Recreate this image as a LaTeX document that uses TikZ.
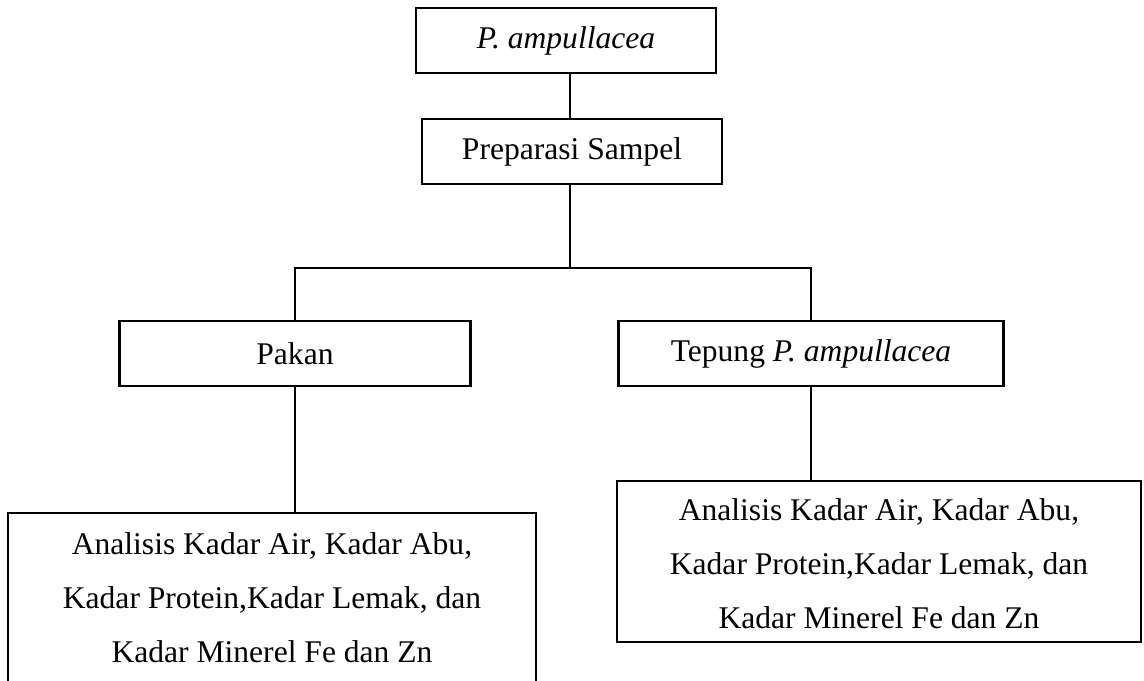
\documentclass[tikz,border=0pt]{standalone}
\usepackage{fontspec}
\setmainfont{Liberation Serif}
\usetikzlibrary{positioning}

\begin{document}
\begin{tikzpicture}[x=0.38pt, y=-0.38pt, line width=0.8pt]
    % Define styles
    \tikzstyle{stepbox} = [draw, rectangle, inner sep=0pt, align=center, font=\fontsize{12}{20.5}\selectfont]
    \tikzstyle{link} = [line width=0.8pt]

    \clip (0,0) rectangle (1144,680);

    % Level 1: sample
    \node[stepbox, minimum width=114pt, minimum height=24.7pt] (sample) at (566,40.5) {\textit{P. ampullacea}};

    % Level 2: preparation
    \node[stepbox, minimum width=114pt, minimum height=24.7pt] (prep) at (572,151.5) {Preparasi Sampel};
    \coordinate (fork) at (570,268);

    % Level 3: materials
    \node[stepbox, minimum width=133.4pt, minimum height=24.7pt] (pakan) at (295,353.5) {Pakan};
    \node[stepbox, minimum width=146.3pt, minimum height=24.7pt] (tepung) at (811,353.5) {Tepung \textit{P. ampullacea}};

    % Level 4: analyses
    \node[stepbox, minimum width=200.6pt, minimum height=64.6pt] (analisisL) at (272,598) {Analisis Kadar Air, Kadar Abu,\\Kadar Protein,Kadar Lemak, dan\\Kadar Minerel Fe dan Zn};
    \node[stepbox, minimum width=199.1pt, minimum height=61.2pt] (analisisR) at (879,561.5) {\rule{0pt}{9.7pt}Analisis Kadar Air, Kadar Abu,\\Kadar Protein,Kadar Lemak, dan\\Kadar Minerel Fe dan Zn};

    % Connectors
    \draw[link] (fork |- sample.south) -- (fork |- prep.north);
    \draw[link] (fork |- prep.south) -- (fork);
    \draw[link] (pakan) |- (fork) -| (tepung);
    \draw[link] (pakan.south) -- (pakan.south |- analisisL.north);
    \draw[link] (tepung.south) -- (tepung.south |- analisisR.north);
\end{tikzpicture}
\end{document}
